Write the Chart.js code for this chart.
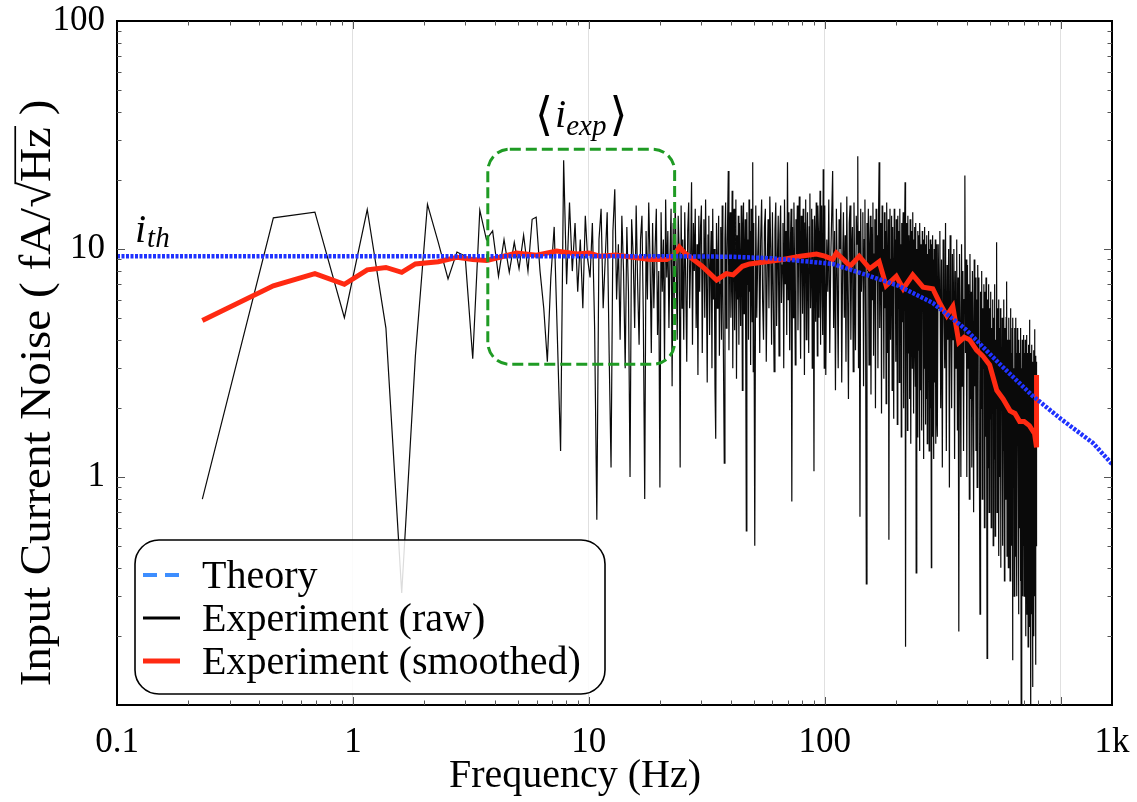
<!DOCTYPE html>
<html>
<head>
<meta charset="utf-8">
<title>Input current noise</title>
<script src="https://cdn.jsdelivr.net/npm/chart.js@4.4.1/dist/chart.umd.min.js"></script>
<style>
  html, body { margin: 0; padding: 0; background: #fff; }
</style>
</head>
<body>
<canvas id="noiseChart" width="1137" height="802"></canvas>
<script>
// axis ranges and tick labels
var freqMin = 0.1, freqMax = 1650;
var freqTicks = [0.1, 1, 10, 100, 1000];
var freqTickText = ['0.1', '1', '10', '100', ''];
var freqMaxText = '1k';
var noiseMin = 0.1, noiseMax = 100;
var noiseTicks = [0.1, 1, 10, 100];
var noiseTickText = ['', '1', '10', '100'];

// theoretical noise floor (fA/sqrt(Hz))
var theoryFreq = [0.1, 20, 40, 60, 86, 108, 150, 205, 287, 395, 548, 760, 1000, 1370, 1650];
var theoryNoise = [9.3, 9.3, 9.25, 9.1, 8.8, 8.6, 7.7, 6.9, 5.8, 4.45, 3.15, 2.27, 1.8, 1.41, 1.14];

// raw spectrum, stored as blocks of constant bin width
var rawLowStart = 0.23, rawLowStep = 0.23;
var rawLow = [0.80, 13.7, 14.5, 5.0, 14.9, 4.5, 0.31, 3.4, 15.7, 10.7, 7.4, 9.7, 9.3, 3.3, 14.8,
  11.0, 12.0, 7.6, 11.0, 7.9, 10.7, 8.2, 11.5, 8.0, 13.5, 13.8, 8.0, 5.5, 3.2, 7.5, 12.5, 4.0,
  1.3, 24.5, 7.0, 16.0, 8.0, 13.0, 6.5, 11.0, 5.5, 14.0, 9.0];

var rawBand1Start = 10.12, rawBand1Step = 0.23;
var rawBand1 = [
  7.5, 13.0, 4.5, 0.65, 11.0, 15.0, 5.5, 9.0, 14.5, 3.5,
  1.1, 12.0, 18.3, 6.0, 10.5, 4.0, 14.0, 8.0, 3.0, 12.5,
  6.5, 1.0, 13.5, 9.5, 4.5, 15.5, 7.0, 3.8, 11.0, 14.0,
  5.0, 0.8, 12.0, 6.0, 16.0, 9.0, 3.5, 13.0, 5.5, 10.0,
  15.0, 4.2, 8.0, 0.9, 14.5, 6.5, 11.0, 3.2, 16.5, 7.5,
  12.0, 4.5, 9.5, 15.0, 2.5, 13.0, 6.0, 16.0, 8.5, 4.0,
  14.0, 10.0, 1.1, 15.5, 5.5];

var rawBand2Start = 25, rawBand2Step = 0.25;
var rawBand2 = [
  11.0, 4.0, 14.5, 7.0, 3.2, 12.0, 16.0, 5.5, 9.0, 19.6,
  3.8, 13.0, 8.0, 15.0, 4.5, 10.5, 2.8, 14.0, 6.5, 12.5,
  15.5, 3.5, 9.5, 13.5, 5.0, 16.5, 7.5, 2.6, 11.5, 14.0,
  4.2, 8.5, 12.0, 3.0, 15.0, 6.0, 10.0, 2.5, 1.47, 13.0,
  5.5, 9.0, 14.0, 3.4, 7.0, 12.5, 4.0, 15.5, 6.5, 2.8,
  1.15, 11.0, 16.0, 4.5, 8.5, 13.5, 22.0, 3.6, 10.0, 14.5,
  5.0, 7.5, 18.0, 3.0, 12.0, 15.0, 4.4, 9.5, 16.5, 2.7,
  11.5, 6.0, 14.0, 3.8, 13.0, 8.0, 4.6, 15.5, 10.5, 2.4,
  12.5, 16.0, 5.2, 9.0, 13.5, 3.3, 0.58, 14.5, 7.0, 11.0,
  4.0, 16.5, 6.5, 12.0, 3.1, 15.0, 8.5, 4.8, 24.0, 2.9];

var rawBand3Start = 50, rawBand3Step = 0.5;
var rawBand3 = [
  13.0, 0.5, 15.5, 5.0, 9.5, 14.0, 3.5, 11.0, 16.5, 6.0,
  4.0, 12.5, 15.0, 3.2, 8.0, 13.5, 5.5, 17.0, 10.0, 3.8,
  14.5, 6.5, 2.9, 12.0, 16.0, 4.6, 9.0, 14.0, 3.4, 11.5,
  15.5, 5.8, 8.5, 13.0, 3.0, 16.5, 7.0, 12.0, 4.2, 24.0,
  6.0, 14.5, 3.6, 10.5, 15.0, 0.78, 12.5, 5.0, 16.0, 8.0,
  3.1, 13.5, 9.5, 15.5, 4.4, 11.0, 17.0, 6.5, 3.3, 14.0,
  12.0, 5.2, 15.0, 8.5, 2.8, 13.0, 16.5, 4.0, 10.0, 14.5,
  6.0, 3.5, 12.5, 17.5, 5.5, 9.0, 15.0, 3.0, 13.5, 7.5,
  1.06, 14.0, 11.0, 4.8, 16.0, 8.0, 3.4, 15.5, 12.0, 5.0,
  9.5, 18.0, 3.8, 13.0, 15.5, 6.0, 4.2, 22.4, 10.5, 3.0];

var rawBand4Start = 100, rawBand4Step = 1;
var rawBand4 = [
  15.5, 2.8, 11.0, 6.5, 16.5, 3.5, 9.0, 14.0, 22.0, 4.5, 12.0, 2.4, 15.0, 7.5, 3.0, 13.5, 10.0, 16.0, 2.6, 8.5,
  14.5, 5.0, 11.5, 3.2, 17.0, 6.0, 2.2, 13.0, 15.5, 4.0, 9.5, 12.5, 2.9, 16.0, 7.0, 3.6, 14.0, 10.5, 25.5, 3.0,
  12.0, 0.67, 15.0, 6.5, 9.0, 14.5, 2.5, 11.0, 16.5, 4.2, 0.34, 13.0, 8.0, 15.0, 3.1, 10.5, 14.0, 2.3, 12.5, 6.0,
  16.0, 3.4, 9.5, 13.5, 2.0, 15.0, 7.5, 11.5, 3.0, 14.0, 24.0, 4.5, 8.5, 13.0, 1.9, 15.5, 6.5, 10.0, 2.7, 14.5,
  5.5, 12.0, 2.1, 16.0, 8.0, 3.5, 13.5, 0.53, 11.0, 15.0, 4.0, 9.0, 14.0, 2.4, 12.5, 6.0, 1.8, 15.0, 7.5, 11.0,
  3.2, 13.5, 9.0, 1.7, 14.0, 5.5, 12.0, 2.6, 15.0, 7.0, 10.5, 1.5, 13.0, 4.8, 11.5, 14.5, 2.0, 8.5, 12.5, 19.6,
  0.18, 13.0, 6.5, 10.0, 1.6, 14.0, 3.5, 11.5, 8.0, 2.2, 13.5, 5.0, 1.4, 12.0, 9.5, 3.0, 14.5, 6.0, 1.9, 11.0,
  12.5, 4.2, 2.5, 13.0, 0.38, 10.0, 7.0, 1.5, 12.0, 3.6, 11.5, 5.5, 1.3, 13.0, 8.5, 2.4, 10.5, 4.5, 1.6, 12.0,
  6.5, 11.0, 1.2, 9.0, 3.0, 12.5, 5.0, 1.7, 10.5, 7.5, 2.2, 11.5, 1.4, 9.5, 4.0, 12.0, 6.0, 1.3, 10.0, 3.4,
  11.0, 2.0, 8.0, 0.40, 10.5, 5.0, 1.5, 11.5, 3.5, 9.0, 1.2, 10.0, 6.5, 2.6, 11.0, 1.4, 8.5, 4.0, 10.5, 1.8];

var rawBand5Start = 300, rawBand5Step = 2.5;
var rawBand5 = [
  1.5, 10.5, 5.5, 12.0, 2.0, 9.0, 1.1, 11.0, 6.0, 3.0, 13.0, 1.3, 8.5, 4.0, 10.0, 0.9, 11.5, 5.0, 2.0, 9.5,
  4.0, 10.0, 1.2, 8.0, 3.0, 11.0, 1.6, 7.5, 0.21, 9.5, 4.5, 1.0, 10.5, 2.5, 8.0, 1.3, 6.0, 21.0, 3.5, 9.0,
  1.0, 8.5, 3.0, 7.0, 0.8, 9.5, 2.2, 6.5, 1.1, 8.0, 4.0, 0.7, 9.0, 2.5, 7.5, 1.3, 6.0, 0.9, 8.5, 3.5,
  7.5, 1.0, 0.25, 6.5, 2.0, 8.0, 0.8, 5.5, 3.0, 7.0, 0.6, 6.5, 1.5, 7.5, 2.5, 0.16, 6.0, 1.1, 7.0, 0.7,
  5.5, 1.8, 6.5, 0.6, 4.5, 2.5, 6.0, 0.5, 5.0, 1.2, 7.0, 0.55, 4.0, 2.0, 10.7, 0.7, 5.5, 1.5, 6.0, 0.45,
  4.5, 1.0, 5.5, 0.4, 3.5, 2.0, 5.0, 0.5, 4.0, 1.3, 6.0, 0.35, 4.5, 0.8, 3.0, 5.0, 7.2, 0.45, 4.0, 1.6,
  0.4, 5.0, 2.0, 4.0, 0.35, 5.5, 1.0, 3.5, 0.5, 4.5, 0.157, 5.0, 1.5, 3.0, 0.3, 4.5, 2.0, 0.45, 5.0, 0.8,
  3.5, 0.3, 4.5, 1.5, 3.0, 0.25, 4.0, 0.6, 3.5, 2.0, 0.35, 4.5, 0.09, 3.0, 1.0, 4.0, 0.3, 3.5, 0.5, 4.2,
  0.3, 3.5, 1.2, 4.0, 0.2, 3.0, 0.6, 4.2, 0.25, 3.5, 1.8, 0.18, 3.8, 0.5, 3.0, 4.9, 0.22, 3.5, 0.7, 0.08,
  3.5, 0.25, 3.8, 1.0, 0.12, 3.2, 0.4, 3.6, 0.2, 2.5, 4.45, 0.3, 3.4, 0.15, 3.0, 0.5, 3.2];

// smoothed spectrum
var smoothFreq = [0.23, 0.46, 0.69, 0.92, 1.15, 1.38, 1.61, 1.84, 2.3, 2.76, 3.22, 3.69, 4.19, 4.94,
  6.0, 7.3, 8.9, 10, 11.1, 13, 15.3, 18.2, 21.4, 23, 24.2, 25.5, 26.6, 30.2, 34.8, 38.3, 40.9, 44.8,
  48, 56.5, 66.4, 78.8, 92.2, 100, 108, 112, 120, 128, 140, 155, 170, 182, 201, 215, 236, 261, 287,
  307, 329, 349, 370, 390, 411, 440, 467, 500, 536, 570, 610, 640, 670, 700, 737, 775, 790, 790];
var smoothNoise = [4.86, 6.9, 7.8, 7.0, 8.1, 8.3, 7.9, 8.6, 8.8, 9.2, 9.0, 8.9, 9.2, 9.6,
  9.4, 9.8, 9.5, 9.6, 9.3, 9.4, 9.2, 9.0, 9.0, 9.4, 10.2, 9.6, 9.3, 8.4, 7.3, 7.8, 7.7, 8.4,
  8.6, 8.8, 9.0, 9.3, 9.5, 9.3, 9.0, 9.6, 9.0, 8.4, 9.3, 8.2, 8.8, 6.9, 7.6, 6.7, 7.7, 6.8, 6.7,
  5.8, 5.1, 5.6, 3.9, 4.1, 4.0, 3.6, 3.4, 3.1, 2.4, 2.2, 1.95, 1.9, 1.75, 1.75, 1.68, 1.55, 1.35, 2.8];

// averaging window drawn as a dashed box
var avgBoxFreq = [3.73, 23.1];
var avgBoxNoise = [3.12, 27.4];

var serif = '"Liberation Serif", "DejaVu Serif", serif';

function binSeries(start, step, values) {
  return values.map(function (v, k) { return { x: start + k * step, y: v }; });
}

function pairSeries(xs, ys) {
  return xs.map(function (x, i) { return { x: x, y: ys[i] }; });
}

var rawPoints = [].concat(
  binSeries(rawLowStart, rawLowStep, rawLow),
  binSeries(rawBand1Start, rawBand1Step, rawBand1),
  binSeries(rawBand2Start, rawBand2Step, rawBand2),
  binSeries(rawBand3Start, rawBand3Step, rawBand3),
  binSeries(rawBand4Start, rawBand4Step, rawBand4),
  binSeries(rawBand5Start, rawBand5Step, rawBand5)
);

var legendStyles = [
  { color: '#3d8eff', width: 4, dash: [14, 8] },
  { color: '#000000', width: 3, dash: [] },
  { color: '#ff2a12', width: 5, dash: [] }
];

// draws a sequence of text runs (font, vertical shift) left to right
function drawRuns(ctx, runs, x, y) {
  runs.forEach(function (r) {
    ctx.font = r.font;
    ctx.fillText(r.text, x, y + (r.dy || 0));
    x += ctx.measureText(r.text).width + (r.gap || 0);
  });
  return x;
}

function runsWidth(ctx, runs) {
  var w = 0;
  runs.forEach(function (r) { ctx.font = r.font; w += ctx.measureText(r.text).width + (r.gap || 0); });
  return w;
}

var whiteBackground = {
  id: 'whiteBackground',
  beforeDraw: function (chart) {
    var ctx = chart.ctx;
    ctx.save();
    ctx.fillStyle = '#ffffff';
    ctx.fillRect(0, 0, chart.width, chart.height);
    ctx.restore();
  }
};

var decorations = {
  id: 'decorations',
  afterDatasetsDraw: function (chart) {
    var ctx = chart.ctx, area = chart.chartArea;
    var xs = chart.scales.x, ys = chart.scales.y;
    ctx.save();

    // dashed rounded box around the averaging window
    var bx0 = xs.getPixelForValue(avgBoxFreq[0]), bx1 = xs.getPixelForValue(avgBoxFreq[1]);
    var by0 = ys.getPixelForValue(avgBoxNoise[1]), by1 = ys.getPixelForValue(avgBoxNoise[0]);
    ctx.beginPath();
    ctx.roundRect(bx0, by0, bx1 - bx0, by1 - by0, 22);
    ctx.setLineDash([11, 5]);
    ctx.lineWidth = 3;
    ctx.strokeStyle = '#1f9b24';
    ctx.stroke();
    ctx.setLineDash([]);

    ctx.fillStyle = '#000';
    ctx.textBaseline = 'alphabetic';
    ctx.textAlign = 'left';

    // <i_exp> label above the box
    var expRuns = [
      { text: '\u27E8', font: '46px ' + serif, dy: 3, gap: 2 },
      { text: 'i', font: 'italic 40px ' + serif },
      { text: 'exp', font: 'italic 29px ' + serif, dy: 8, gap: 3 },
      { text: '\u27E9', font: '46px ' + serif, dy: 3 }
    ];
    var ew = runsWidth(ctx, expRuns);
    drawRuns(ctx, expRuns, (bx0 + bx1) / 2 - ew / 2, by0 - 22);

    // i_th label over the theory line
    var thY = ys.getPixelForValue(theoryNoise[0]);
    drawRuns(ctx, [
      { text: 'i', font: 'italic 40px ' + serif, gap: 1 },
      { text: 'th', font: 'italic 29px ' + serif, dy: 5 }
    ], area.left + 18, thY - 14);

    // frame
    ctx.lineWidth = 2;
    ctx.strokeStyle = '#000';
    ctx.strokeRect(area.left, area.top, area.right - area.left, area.bottom - area.top);

    // inward tick marks on all four sides
    ctx.lineWidth = 1;
    ctx.strokeStyle = '#555';
    ctx.beginPath();
    var d, m, v, p, len;
    for (d = 0.1; d <= freqMax; d *= 10) {
      for (m = 1; m <= 9; m++) {
        v = d * m;
        if (v <= freqMin || v >= freqMax) continue;
        p = Math.round(xs.getPixelForValue(v)) + 0.5;
        len = m === 1 ? 8 : 4.5;
        ctx.moveTo(p, area.bottom); ctx.lineTo(p, area.bottom - len);
        ctx.moveTo(p, area.top); ctx.lineTo(p, area.top + len);
      }
    }
    for (d = 0.1; d < noiseMax; d *= 10) {
      for (m = 1; m <= 9; m++) {
        v = d * m;
        if (v <= noiseMin || v >= noiseMax) continue;
        p = Math.round(ys.getPixelForValue(v)) + 0.5;
        len = m === 1 ? 8 : 4.5;
        ctx.moveTo(area.left, p); ctx.lineTo(area.left + len, p);
        ctx.moveTo(area.right, p); ctx.lineTo(area.right - len, p);
      }
    }
    ctx.stroke();

    // legend
    var lx = area.left + 18, ly = area.bottom - 165, lw = 470, lh = 154;
    ctx.beginPath();
    ctx.roundRect(lx, ly, lw, lh, 24);
    ctx.fillStyle = 'rgba(255,255,255,0.86)';
    ctx.fill();
    ctx.lineWidth = 1.6;
    ctx.strokeStyle = '#000';
    ctx.stroke();
    ctx.font = '40px ' + serif;
    ctx.textBaseline = 'middle';
    chart.data.datasets.forEach(function (ds, i) {
      var st = legendStyles[i], y = ly + 35 + i * 43;
      ctx.beginPath();
      ctx.setLineDash(st.dash);
      ctx.lineWidth = st.width;
      ctx.strokeStyle = st.color;
      ctx.moveTo(lx + 8, y);
      ctx.lineTo(lx + 45, y);
      ctx.stroke();
      ctx.setLineDash([]);
      ctx.fillStyle = '#000';
      ctx.fillText(ds.label, lx + 67, y + 2);
    });

    ctx.restore();
  },
  afterDraw: function (chart) {
    var ctx = chart.ctx, area = chart.chartArea;
    ctx.save();
    ctx.fillStyle = '#000';
    ctx.textAlign = 'left';
    ctx.textBaseline = 'alphabetic';

    // x axis title
    ctx.font = '40px ' + serif;
    var xt = 'Frequency (Hz)';
    ctx.fillText(xt, 575 - ctx.measureText(xt).width / 2, 787);

    // y axis title with a radical over Hz
    var size = 44, f = size + 'px ' + serif;
    var runs = ['Input Current Noise ', '( ', 'fA/', '\u221A', 'Hz', ' )'];
    ctx.translate(50, (area.top + area.bottom) / 2 + 30);
    ctx.rotate(-Math.PI / 2);
    ctx.scale(1.07, 1);
    ctx.font = f;
    var w = 0;
    runs.forEach(function (t) { w += ctx.measureText(t).width; });
    var x = -w / 2, hzStart = 0, hzEnd = 0;
    runs.forEach(function (t, i) {
      ctx.fillText(t, x, 0);
      var rw = ctx.measureText(t).width;
      if (i === 4) { hzStart = x; hzEnd = x + rw; }
      x += rw;
    });
    ctx.lineWidth = 1.7;
    ctx.strokeStyle = '#000';
    ctx.beginPath();
    ctx.moveTo(hzStart - 2, -0.79 * size);
    ctx.lineTo(hzEnd + 1, -0.79 * size);
    ctx.stroke();
    ctx.restore();
  }
};

var ctx = document.getElementById('noiseChart').getContext('2d');
var noiseChart = new Chart(ctx, {
  type: 'line',
  data: {
    datasets: [
      {
        label: 'Theory',
        data: pairSeries(theoryFreq, theoryNoise),
        borderColor: '#1f32ff',
        borderWidth: 4.5,
        borderDash: [3, 1.5],
        order: 0
      },
      {
        label: 'Experiment (raw)',
        data: rawPoints,
        borderColor: '#0a0a0a',
        borderWidth: 1.2,
        order: 2
      },
      {
        label: 'Experiment (smoothed)',
        data: pairSeries(smoothFreq, smoothNoise),
        borderColor: '#ff2a12',
        borderWidth: 5,
        order: 1
      }
    ]
  },
  options: {
    responsive: false,
    animation: false,
    events: [],
    layout: { padding: { left: 0, top: 21, right: 25, bottom: 0 } },
    elements: { point: { radius: 0 }, line: { tension: 0, fill: false } },
    plugins: { legend: { display: false }, tooltip: { enabled: false } },
    scales: {
      x: {
        type: 'logarithmic',
        min: freqMin,
        max: freqMax,
        afterBuildTicks: function (s) {
          s.ticks = freqTicks.concat([freqMax]).map(function (v) { return { value: v }; });
        },
        afterFit: function (s) {
          s.height = 97;
          s.paddingLeft = 0;
          s.paddingRight = 0;
        },
        border: { display: false },
        grid: {
          drawTicks: false,
          lineWidth: 1,
          color: function (c) {
            var v = c.tick ? c.tick.value : 0;
            return (v > freqMin && v < freqMax) ? 'rgba(0,0,0,0.12)' : 'rgba(0,0,0,0)';
          }
        },
        ticks: {
          autoSkip: false,
          maxRotation: 0,
          padding: 17,
          color: '#000',
          font: { family: serif, size: 35 },
          callback: function (v, i) { return i < freqTickText.length ? freqTickText[i] : freqMaxText; }
        }
      },
      y: {
        type: 'logarithmic',
        min: noiseMin,
        max: noiseMax,
        afterBuildTicks: function (s) {
          s.ticks = noiseTicks.map(function (v) { return { value: v }; });
        },
        afterFit: function (s) {
          s.width = 117;
          s.paddingTop = 0;
          s.paddingBottom = 0;
        },
        border: { display: false },
        grid: { display: false, drawTicks: false },
        ticks: {
          autoSkip: false,
          padding: 12,
          color: '#000',
          font: { family: serif, size: 35 },
          callback: function (v, i) { return noiseTickText[i]; }
        }
      }
    }
  },
  plugins: [whiteBackground, decorations]
});
</script>
</body>
</html>
